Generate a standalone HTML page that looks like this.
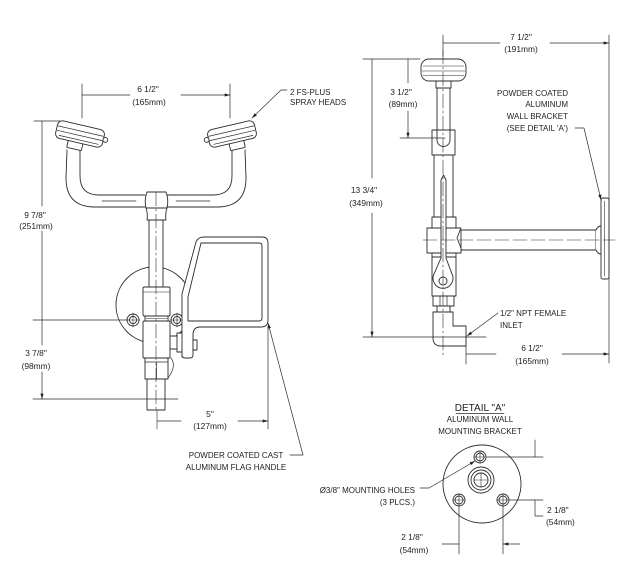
<!DOCTYPE html>
<html><head><meta charset="utf-8"><style>
html,body{margin:0;padding:0;background:#fff;}
svg{display:block;}
text{font-family:"Liberation Sans",sans-serif;font-size:8px;fill:#222;stroke:none;}
.d{font-size:8.4px;}
</style></head><body>
<svg width="640" height="570" viewBox="0 0 640 570" xmlns="http://www.w3.org/2000/svg">
<defs>
<marker id="a" viewBox="0 0 10 6" refX="10" refY="3" markerWidth="6" markerHeight="3.2" orient="auto-start-reverse" markerUnits="userSpaceOnUse"><path d="M0,0L10,3L0,6z" fill="#222"/></marker>
</defs>
<g fill="none" stroke="#2b2b2b" stroke-width="0.9" stroke-linejoin="round" stroke-linecap="round">

<!-- ===== FRONT VIEW ===== -->
<circle cx="154" cy="305" r="38"/>
<rect x="149" y="218" width="14" height="71" fill="#fff"/>
<!-- tee -->
<path d="M147 192L166 192Q169 200 167 208Q165 214 166 220L147 220Q148 214 146 208Q144 200 147 192Z" fill="#fff"/>
<path d="M146 208H167"/>

<!-- left head + tube -->
<g id="hl">
 <path d="M67 150L66 178Q66 207 95 207L145 207"/>
 <path d="M80 151L80 176Q80 195 99 195L145 195"/>
 <path d="M102 201H136" stroke-width="0.7"/>
 <g transform="translate(80,134) rotate(13)">
  <rect x="-10" y="8" width="15" height="8" rx="1" fill="#fff"/>
  <rect x="-24" y="-9" width="48" height="18" rx="5" fill="#fff"/>
  <path d="M-23 -3H23M-23 1.5H23M-20 6H20" stroke-width="0.7"/>
  <circle cx="26" cy="0" r="2.4" fill="#fff"/>
 </g>
</g>
<use href="#hl" transform="translate(312,0) scale(-1,1)"/>

<!-- body -->
<rect x="143" y="287" width="27" height="29" rx="1.5" fill="#fff"/>
<path d="M143 292H170" stroke-width="0.6"/>
<rect x="145" y="316" width="23" height="5" fill="#fff"/>
<path d="M146 318.5H167" stroke-width="0.6"/>
<rect x="143" y="321" width="27" height="37" rx="1" fill="#fff"/>
<rect x="145" y="358" width="23" height="21" fill="#fff"/>
<path d="M145 362H168M156.5 362V379" stroke-width="0.7"/>
<rect x="147" y="379" width="18" height="31" fill="#fff"/>
<path d="M171 358Q177 366 168 378" stroke-width="0.7"/>
<!-- holes -->
<circle cx="133" cy="320" r="6" fill="#fff"/><circle cx="133" cy="320" r="3.6"/>
<path d="M126 320H140M133 313V327" stroke-width="0.6"/>
<circle cx="177" cy="320" r="6" fill="#fff"/><circle cx="177" cy="320" r="3.6"/>
<path d="M170 320H184M177 313V327" stroke-width="0.6"/>
<!-- stem -->
<rect x="170" y="336" width="8" height="13" fill="#fff"/>
<rect x="177" y="333" width="6" height="19" fill="#fff"/>
<!-- handle -->
<path d="M182 357L182 294L196 242Q198 237 204 237L262 237Q268 237 268 243L268 320Q268 327 261 327L200 327Q193 327 193 335L193 355Q193 358 190 358L185 358Q182 358 182 355Z" fill="#fff"/>
<path d="M201 243L259 243Q262 243 262 246L262 318Q262 321 259 321L188 321L188 297Z"/>
<rect x="193" y="340" width="4" height="10" fill="#fff"/>

<!-- front centerline -->
<path d="M156 192V410" stroke-width="0.6" stroke-dasharray="14 3 2 3"/>
<path d="M157 410V429" stroke-width="0.6"/>

<!-- front dims -->
<g stroke-width="0.7">
<path d="M82 84V118M230 84V118"/>
<path d="M130 95H82M181 95H230" marker-end="url(#a)"/>
<path d="M34 121H60M33 320H128M33 399H178"/>
<path d="M42 206V121M42 231V320M42 345V320M42 372V399" marker-end="url(#a)"/>
<path d="M268 327V429"/>
<path d="M181 421H157M238 421H268" marker-end="url(#a)"/>
<path d="M287 90H281L252 118" marker-end="url(#a)"/>
<path d="M290 455H303L268 323" marker-end="url(#a)"/>
</g>

<!-- ===== SIDE VIEW ===== -->
<rect x="461" y="230" width="135" height="20" fill="#fff"/>
<path d="M596 230Q598 226 601 226L601 254Q598 254 596 250" fill="#fff"/>
<rect x="601" y="198" width="8" height="81" rx="2" fill="#fff"/>
<path d="M604.5 201V276" stroke-width="0.6"/>
<rect x="437" y="86" width="13" height="60" fill="#fff"/>
<rect x="436" y="81" width="15" height="7" fill="#fff"/>
<rect x="421" y="59" width="45" height="22" rx="8" fill="#fff"/>
<path d="M423 66H464M422 71H465M423 75.5H464" stroke-width="0.6"/>
<path d="M434 155V217M453 155V217"/>
<path d="M432 130H455V155H432Z" fill="#fff"/>
<path d="M437 130V140A6.5 6.5 0 0 0 450 140V130"/>
<rect x="432" y="217" width="24" height="11" fill="#fff"/>
<path d="M427 228H461L457 238L461 248V253H427Z" fill="#fff"/>
<rect x="432" y="253" width="24" height="4" fill="#fff"/>
<rect x="432" y="257" width="24" height="39" fill="#fff"/>
<rect x="433" y="296" width="21" height="10" fill="#fff"/>
<path d="M440 296V306M447 296V306" stroke-width="0.7"/>
<rect x="437" y="306" width="13" height="6" fill="#fff"/>
<path d="M433 312L453 312L453 326L466 326L466 346L441 346Q433 346 433 338Z" fill="#fff"/>
<!-- rod -->
<path d="M441 258V180L443.5 175L446 180V258L452 274A10 10 0 1 1 434 274Z" fill="#fff"/>
<circle cx="443" cy="281" r="4"/>
<!-- side centerlines -->
<path d="M443 50V356" stroke-width="0.6" stroke-dasharray="14 3 2 3"/>
<path d="M423 240H615" stroke-width="0.6" stroke-dasharray="14 4"/>

<!-- side dims -->
<g stroke-width="0.7">
<path d="M443 35V56M609 35V363"/>
<path d="M500 43H443M550 43H609" marker-end="url(#a)"/>
<path d="M363 59H420M400 138H445M363 337H486"/>
<path d="M408 83V59M408 111V138" marker-end="url(#a)"/>
<path d="M372 178V59M372 213V337" marker-end="url(#a)"/>
<path d="M466 340V364"/>
<path d="M496 354H466M562 354H609" marker-end="url(#a)"/>
<path d="M498 313L467 336" marker-end="url(#a)"/>
<path d="M575 128H584L601 200" marker-end="url(#a)"/>
</g>

<!-- ===== DETAIL A ===== -->
<circle cx="482" cy="484" r="39"/>
<circle cx="481" cy="480" r="13"/><circle cx="481" cy="480" r="10"/><circle cx="481" cy="480" r="7"/>
<path d="M474 480H488M481 473V487" stroke-width="0.6"/>
<circle cx="480" cy="457" r="6"/><circle cx="480" cy="457" r="4"/>
<path d="M474 457H486M480 451V463" stroke-width="0.6"/>
<circle cx="459" cy="500" r="6"/><circle cx="459" cy="500" r="4"/>
<path d="M453 500H465M459 494V506" stroke-width="0.6"/>
<circle cx="503" cy="500" r="6"/><circle cx="503" cy="500" r="4"/>
<path d="M497 500H509M503 494V506" stroke-width="0.6"/>
<g stroke-width="0.7">
<path d="M487 457H543M509 500H543M459 506V554M503 506V554"/>
<path d="M535 440V457M543 516H535V500M442 544H459M520 544H503" marker-end="url(#a)"/>
<path d="M420 488H429L475 461" marker-end="url(#a)"/>
<path d="M456 413.5H504"/>
</g>
</g>

<!-- ===== TEXT ===== -->
<g>
<text class="d" x="148" y="92" text-anchor="middle">6 1/2"</text>
<text class="d" x="149" y="105" text-anchor="middle">(165mm)</text>
<text x="290" y="95">2 FS-PLUS</text>
<text x="290" y="105">SPRAY HEADS</text>
<text class="d" x="35" y="218" text-anchor="middle">9 7/8"</text>
<text class="d" x="36" y="229" text-anchor="middle">(251mm)</text>
<text class="d" x="36" y="356" text-anchor="middle">3 7/8"</text>
<text class="d" x="36" y="369" text-anchor="middle">(98mm)</text>
<text class="d" x="210" y="417" text-anchor="middle">5"</text>
<text class="d" x="210" y="429" text-anchor="middle">(127mm)</text>
<text x="236" y="458" text-anchor="middle">POWDER COATED CAST</text>
<text x="236" y="470" text-anchor="middle">ALUMINUM FLAG HANDLE</text>

<text class="d" x="521" y="40" text-anchor="middle">7 1/2"</text>
<text class="d" x="521" y="52" text-anchor="middle">(191mm)</text>
<text class="d" x="401" y="95" text-anchor="middle">3 1/2"</text>
<text class="d" x="403" y="107" text-anchor="middle">(89mm)</text>
<text class="d" x="364" y="193" text-anchor="middle">13 3/4"</text>
<text class="d" x="366" y="206" text-anchor="middle">(349mm)</text>
<text x="568" y="96" text-anchor="end">POWDER COATED</text>
<text x="568" y="107" text-anchor="end">ALUMINUM</text>
<text x="568" y="119" text-anchor="end">WALL BRACKET</text>
<text x="568" y="131" text-anchor="end">(SEE DETAIL 'A')</text>
<text x="500" y="316">1/2" NPT FEMALE</text>
<text x="500" y="328">INLET</text>
<text class="d" x="532" y="351" text-anchor="middle">6 1/2"</text>
<text class="d" x="532" y="364" text-anchor="middle">(165mm)</text>

<text x="480" y="411" text-anchor="middle" style="font-size:10px">DETAIL "A"</text>
<text x="480" y="422" text-anchor="middle">ALUMINUM WALL</text>
<text x="480" y="434" text-anchor="middle">MOUNTING BRACKET</text>
<text x="415" y="493" text-anchor="end">Ø3/8" MOUNTING HOLES</text>
<text x="415" y="505" text-anchor="end">(3 PLCS.)</text>
<text class="d" x="547" y="513">2 1/8"</text>
<text class="d" x="546" y="525">(54mm)</text>
<text class="d" x="412" y="540" text-anchor="middle">2 1/8"</text>
<text class="d" x="414" y="553" text-anchor="middle">(54mm)</text>
</g>
</svg>
</body></html>
